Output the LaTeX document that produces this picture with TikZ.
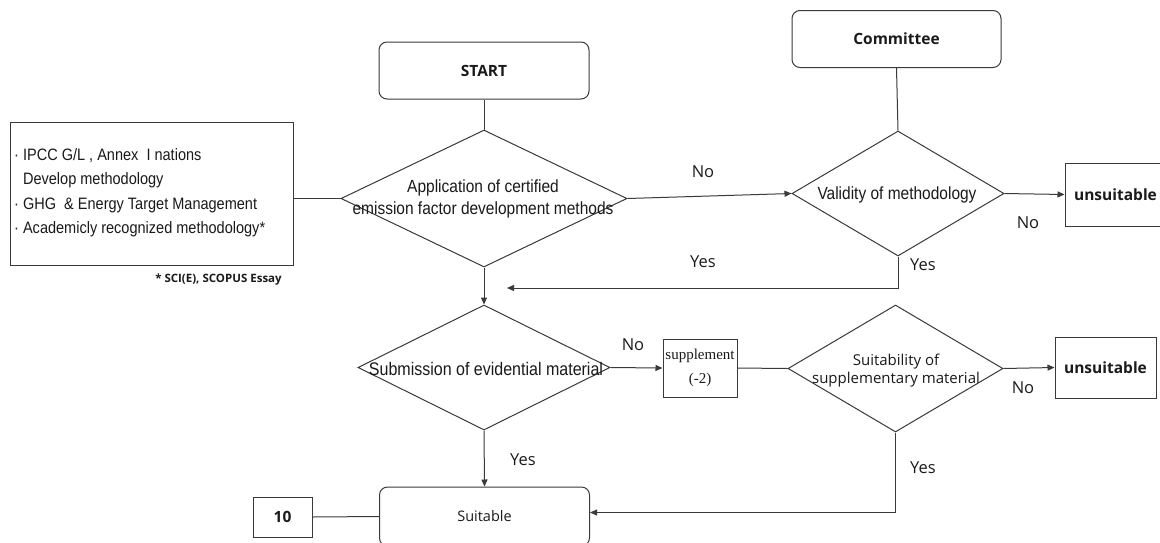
\documentclass[tikz,border=0pt]{standalone}
\usepackage{fontspec}
\setmainfont{Liberation Sans}[FakeStretch=0.88]
\newfontfamily\osans{Open Sans}
\newfontfamily\tnr{Liberation Serif}
\usetikzlibrary{shapes.geometric,arrows.meta}
\definecolor{linec}{HTML}{3A3A3A}
\definecolor{textc}{HTML}{1A1A1A}
\tikzset{
  ln/.style={draw=linec, line width=1pt},
  arr/.style={ln, -{Triangle[length=7pt,width=6pt]}},
  rbox/.style={draw=linec, line width=1pt, rounded corners=8pt, inner sep=0pt, text=textc},
  sbox/.style={draw=linec, line width=1pt, inner sep=0pt, text=textc},
  dia/.style={diamond, draw=linec, line width=1pt, inner sep=0pt},
  dtxt/.style={text=textc, inner sep=0pt, align=center},
  lab/.style={font=\osans\fontsize{16.5}{16}\selectfont, text=textc, inner sep=0pt},
  bold/.style={font=\osans\bfseries\fontsize{15.5}{16}\selectfont}
}
\begin{document}
\begin{tikzpicture}[x=1pt,y=-1pt]
\useasboundingbox (0,0) rectangle (1160,542);
\fill[white] (0,0) rectangle (1160,542);

% top boxes
\node[rbox, bold, minimum width=210pt, minimum height=57pt] (start) at (484,70.5) {START};
\node[rbox, bold, minimum width=209pt, minimum height=57pt] (comm) at (896.5,39) {Committee};

% source box
\node[sbox, minimum width=283pt, minimum height=143pt] (src) at (151.5,193.5) {};
\node[anchor=west, align=left, text=textc, inner sep=0pt, font=\fontsize{16.5}{24.5}\selectfont] (srctxt) at (14,192.5)
  {· IPCC G/L , Annex \ I nations\\\phantom{· }Develop methodology\\· GHG \ \& Energy Target Management\\· Academicly recognized methodology*};
\node[font=\osans\bfseries\fontsize{11.5}{12}\selectfont, text=textc, inner sep=0pt] (fn) at (218.5,280) {* SCI(E), SCOPUS Essay};

% diamonds
\node[dia, minimum width=286pt, minimum height=137pt] (d1) at (484,198.5) {};
\node[dtxt, font=\fontsize{17.6}{22}\selectfont] (d1t) at (483,199) {Application of certified\\emission factor development methods};
\node[dia, minimum width=212pt, minimum height=125pt] (d2) at (898,193.5) {};
\node[dtxt, font=\fontsize{17.6}{18}\selectfont] (d2t) at (897,195) {Validity of methodology};
\node[dia, minimum width=252pt, minimum height=125pt] (d3) at (484,367.5) {};
\node[dtxt, font=\fontsize{18.2}{18}\selectfont] (d3t) at (486,369) {Submission of evidential material};
\node[dia, minimum width=215pt, minimum height=127pt] (d4) at (895.5,368.5) {};
\node[dtxt, font=\osans\fontsize{15}{18}\selectfont] (d4t) at (896,371) {Suitability of\\supplementary material};

% result boxes
\node[sbox, bold, minimum width=101pt, minimum height=63pt] (uns1) at (1115.5,194.5) {unsuitable};
\node[sbox, bold, minimum width=101pt, minimum height=61pt] (uns2) at (1105.5,367.5) {unsuitable};
\node[sbox, align=center, minimum width=74pt, minimum height=58pt, font=\tnr\fontsize{15}{24}\selectfont] (supp) at (700,368) {supplement\\(-2)};
\node[rbox, minimum width=210pt, minimum height=59pt, font=\osans\fontsize{14.5}{16}\selectfont] (suit) at (484.5,516.5) {Suitable};
\node[sbox, bold, minimum width=59pt, minimum height=40pt] (ten) at (282.5,517) {10};

% connectors
\draw[ln] (start.south) -- (d1.north);
\draw[ln] (comm.south) -- (d2.north);
\draw[ln] (d1.west -| src.east) -- (d1.west);
\draw[arr] (d1.east) -- (d2.west);
\draw[arr] (d2.east) -- (uns1.west);
\coordinate (ret) at (507,288);
\draw[arr] (d2.south) |- (ret);
\draw[arr] (d1.south) -- (d3.north);
\draw[arr] (d3.east) -- (supp.west);
\draw[ln] (supp.east) -- (d4.west);
\draw[arr] (d4.east) -- (uns2.west);
\draw[arr] (d3.south) -- (suit.north);
\draw[arr] (d4.south) |- ([yshift=4pt]suit.east);
\draw[ln] (ten.east) -- (suit.west);

% labels
\node[lab] (l1) at (703,172) {No};
\node[lab] (l2) at (703,262) {Yes};
\node[lab] (l3) at (923,265) {Yes};
\node[lab] (l4) at (1028,223) {No};
\node[lab] (l5) at (633,345) {No};
\node[lab] (l6) at (1023,388) {No};
\node[lab] (l7) at (523,460) {Yes};
\node[lab] (l8) at (923,468) {Yes};
\end{tikzpicture}
\end{document}
